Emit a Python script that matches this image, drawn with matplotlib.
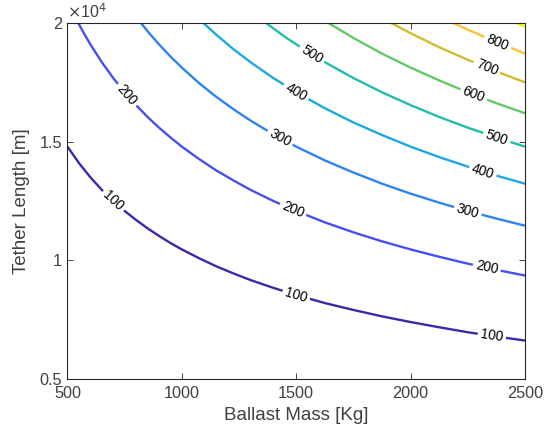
import numpy as np
import matplotlib
matplotlib.use("Agg")
import matplotlib.pyplot as plt

plt.rcParams['font.family'] = ['Liberation Sans', 'DejaVu Sans']

# contour levels (cost) and the points
levels = [100, 200, 300, 400, 500, 600, 700, 800, 900]

mass_100 = [500, 550, 600, 650, 700, 750, 800, 850, 900, 950, 1000, 1075, 1150, 1225, 1300,
            1400, 1500, 1625, 1750, 1875, 2000, 2125, 2250, 2375, 2500]
len_100 = [14790, 14100, 13500, 12970, 12500, 12080, 11700, 11350, 11030, 10730, 10460, 10090,
           9750, 9450, 9170, 8840, 8540, 8200, 7910, 7640, 7400, 7180, 6970, 6790, 6620]

mass_200 = [547, 575, 600, 650, 700, 750, 800, 850, 900, 950, 1000, 1075, 1150, 1225, 1300,
            1400, 1500, 1625, 1750, 1875, 2000, 2125, 2250, 2375, 2500]
len_200 = [20000, 19510, 19100, 18350, 17680, 17080, 16540, 16040, 15590, 15180, 14790, 14270,
           13790, 13370, 12970, 12500, 12080, 11600, 11180, 10800, 10460, 10150, 9860, 9600, 9360]

mass_300 = [821, 860, 900, 950, 1000, 1075, 1150, 1225, 1300, 1400, 1500, 1625, 1750,
            1875, 2000, 2125, 2250, 2375, 2500]
len_300 = [20000, 19540, 19100, 18590, 18120, 17470, 16890, 16370, 15890, 15310, 14790, 14210,
           13700, 13230, 12810, 12430, 12080, 11760, 11460]

mass_400 = [1094, 1150, 1225, 1300, 1400, 1500, 1625, 1750, 1875, 2000, 2125, 2250, 2375, 2500]
len_400 = [20000, 19510, 18900, 18350, 17680, 17080, 16410, 15810, 15280, 14790, 14350, 13950,
           13570, 13230]

mass_500 = [1368, 1450, 1500, 1625, 1750, 1875, 2000, 2125, 2250, 2375, 2500]
len_500 = [20000, 19420, 19100, 18350, 17680, 17080, 16540, 16040, 15590, 15180, 14790]

mass_600 = [1641, 1750, 1875, 2000, 2125, 2250, 2375, 2500]
len_600 = [20000, 19370, 18710, 18120, 17580, 17080, 16620, 16200]

mass_700 = [1915, 2000, 2125, 2250, 2375, 2500]
len_700 = [20000, 19570, 18980, 18450, 17960, 17500]

mass_800 = [2188, 2250, 2375, 2500]
len_800 = [20000, 19720, 19200, 18710]

mass_900 = [2462, 2500]
len_900 = [20000, 19850]

line_mass = [mass_100, mass_200, mass_300, mass_400, mass_500, mass_600, mass_700, mass_800, mass_900]
line_len = [len_100, len_200, len_300, len_400, len_500, len_600, len_700, len_800, len_900]

# where the inline labels sit (ballast mass of each label)
label_mass = {
    100: [700, 1500, 2355],
    200: [760, 1486, 2333],
    300: [1429, 2250],
    400: [1499, 2316],
    500: [1569, 2377],
    600: [2276],
    700: [2333],
    800: [2381],
    900: [],
}

colors = ['#3e27a8', '#4750ef', '#2d84f0', '#1ca9dd', '#23bda8',
          '#63c866', '#d6b930', '#fbc53a', '#f8f20e']

fig = plt.figure(figsize=(5.56, 4.45), dpi=100)
ax = fig.add_axes([0.1214, 0.1483, 0.8228, 0.8000])
ax.set_xlim(500, 2500)
ax.set_ylim(5000, 20000)

for lev, xs, ys, c in zip(levels, line_mass, line_len, colors):
    ax.plot(xs, ys, color=c, lw=1.7, solid_capstyle='butt', zorder=2)

# inline labels, rotated along the curve, white box hides the line underneath
for lev, xs, ys in zip(levels, line_mass, line_len):
    for m in label_mass[lev]:
        y0 = np.interp(m, xs, ys)
        p1 = ax.transData.transform((m - 30, np.interp(m - 30, xs, ys)))
        p2 = ax.transData.transform((m + 30, np.interp(m + 30, xs, ys)))
        ang = np.degrees(np.arctan2(p2[1] - p1[1], p2[0] - p1[0]))
        ax.text(m, y0, str(lev), rotation=ang, rotation_mode='anchor',
                ha='center', va='center', fontsize=9.8, color='black',
                bbox=dict(fc='white', ec='none', pad=2.2), zorder=3)

ax.set_xticks([500, 1000, 1500, 2000, 2500])
ax.set_yticks([5000, 10000, 15000, 20000])
ax.set_yticklabels(['0.5', '1', '1.5', '2'])
ax.tick_params(direction='in', length=4, width=0.6, color='#262626', labelcolor='#404040',
               labelsize=11.7, top=True, right=True, pad=5)
ax.tick_params(axis='y', pad=4)
for s in ax.spines.values():
    s.set_color('#262626')
    s.set_linewidth(0.8)

ax.set_xlabel('Ballast Mass [Kg]', fontsize=13.5, color='#404040', labelpad=4)
ax.set_ylabel('Tether Length [m]', fontsize=13.5, color='#404040', labelpad=7)
ax.text(0.0, 1.005, r'$\times$10$^{4}$', transform=ax.transAxes,
        ha='left', va='bottom', fontsize=11.5, color='#404040')

fig.savefig('out.png', dpi=100)
